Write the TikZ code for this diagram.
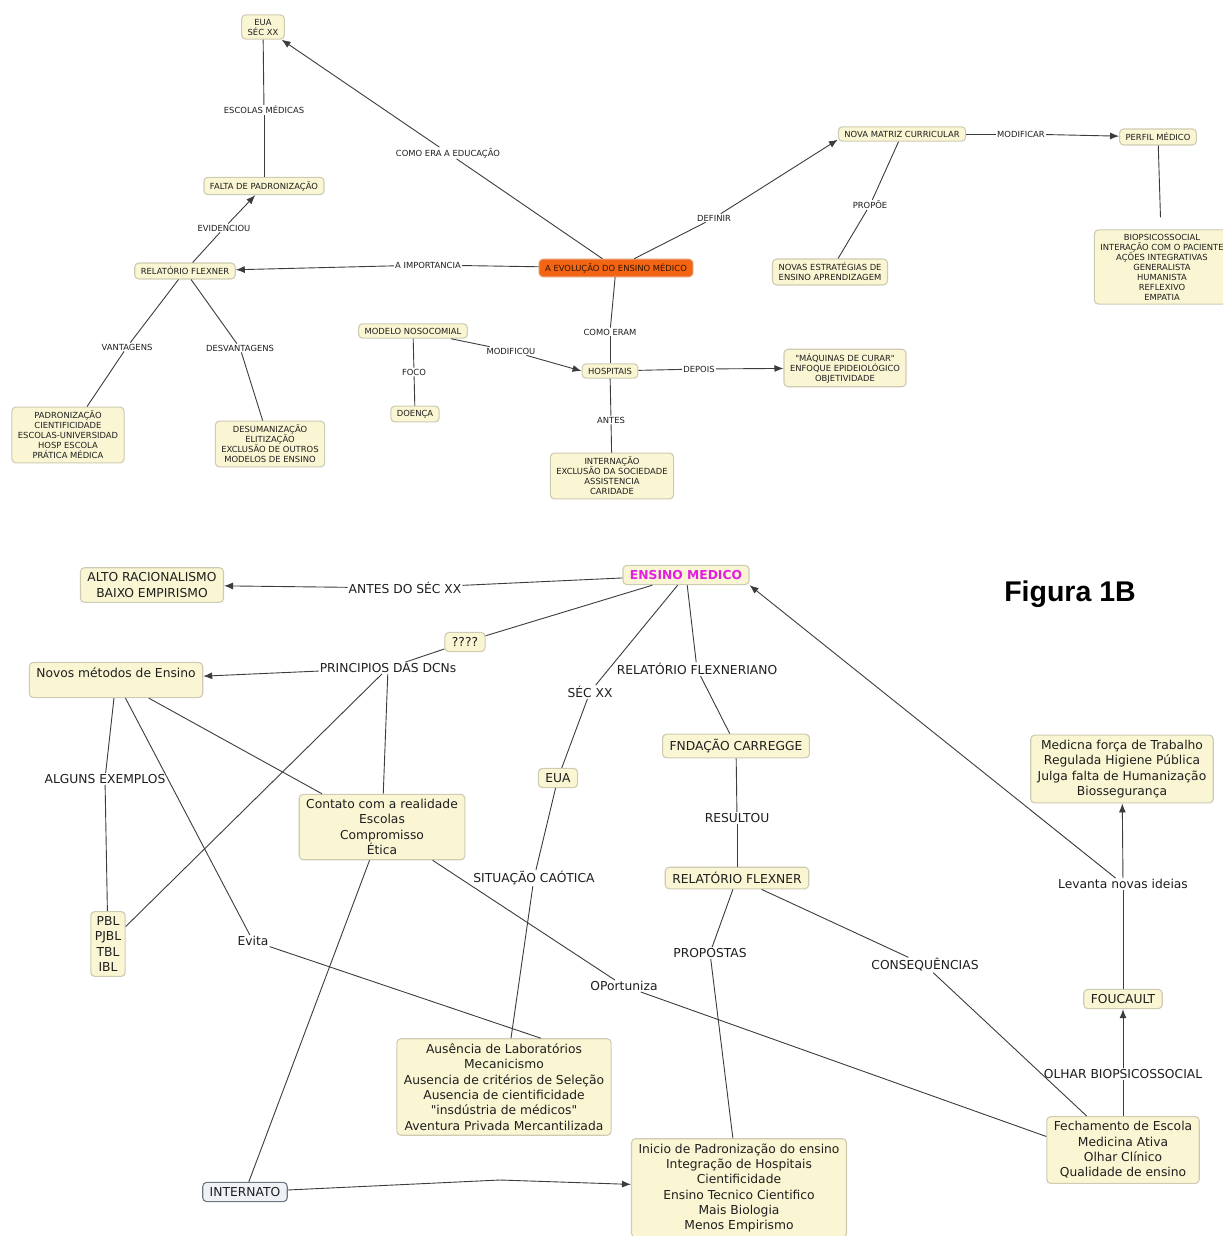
\documentclass[tikz,border=0pt]{standalone}
\usepackage{fontspec}
\usepackage{tikz}
\usepackage{xcolor}
\usetikzlibrary{arrows.meta}
\setmainfont{DejaVu Sans}[Ligatures=TeXOff]
\newfontfamily\arialfont{Liberation Sans}
\definecolor{cmfill}{RGB}{250,246,211}
\definecolor{cmline}{RGB}{206,203,178}
\definecolor{cmedge}{RGB}{60,60,60}
\definecolor{cmtext}{RGB}{30,30,30}
\definecolor{cmorange}{RGB}{243,101,18}
\definecolor{cmorangeline}{RGB}{232,145,95}
\definecolor{cmmagenta}{RGB}{225,30,225}
\definecolor{cmblue}{RGB}{238,242,247}
\definecolor{cmblueline}{RGB}{110,118,128}
\newcommand\topfont{\fontsize{8.4}{10}\selectfont}
\newcommand\botfont{\fontsize{12.3}{15.3}\selectfont}
\tikzset{
  topbox/.style={draw=cmline, fill=cmfill, line width=1.1pt, rounded corners=4pt,
    font=\topfont, text=cmtext, align=center, inner xsep=6pt, inner ysep=4pt},
  botbox/.style={topbox, font=\botfont, inner xsep=7pt, inner ysep=5pt},
  toplink/.style={font=\topfont, text=cmtext, inner sep=1pt},
  botlink/.style={font=\botfont, text=cmtext, inner sep=1pt},
  conn/.style={draw=cmedge, line width=0.9pt},
  >={Latex[length=9pt,width=7pt]}
}

\begin{document}
\begin{tikzpicture}[x=1pt,y=-1pt]
  \useasboundingbox (0,0) rectangle (1223,1236);
  \clip (0,0) rectangle (1223,1236);
  \fill[white] (0,0) rectangle (1223,1236);

  % upper map
  \node[topbox] (euaA) at (263,27) {EUA\\SÉC XX};
  \node[topbox] (falta) at (264,186) {FALTA DE PADRONIZAÇÃO};
  \node[topbox] (flexA) at (185,271) {RELATÓRIO FLEXNER};
  \node[topbox, fill=cmorange, draw=cmorangeline, text={rgb,255:red,50;green,20;blue,0}] (evol) at (616,268) {A EVOLUÇÃO DO ENSINO MÉDICO};
  \node[topbox] (matriz) at (902,134) {NOVA MATRIZ CURRICULAR};
  \node[topbox] (perfil) at (1158,137) {PERFIL MÉDICO};
  \node[topbox] (estrat) at (830,272) {NOVAS ESTRATÉGIAS DE\\ENSINO APRENDIZAGEM};
  \node[topbox] (perfilList) at (1162,267) {BIOPSICOSSOCIAL\\INTERAÇÃO COM O PACIENTE\\AÇÕES INTEGRATIVAS\\GENERALISTA\\HUMANISTA\\REFLEXIVO\\EMPATIA};
  \node[topbox] (vant) at (68,435) {PADRONIZAÇÃO\\CIENTIFICIDADE\\ESCOLAS-UNIVERSIDAD\\HOSP ESCOLA\\PRÁTICA MÉDICA};
  \node[topbox] (desv) at (270,444) {DESUMANIZAÇÃO\\ELITIZAÇÃO\\EXCLUSÃO DE OUTROS\\MODELOS DE ENSINO};
  \node[topbox] (nosoc) at (413,331) {MODELO NOSOCOMIAL};
  \node[topbox] (doenca) at (415,414) {DOENÇA};
  \node[topbox] (hosp) at (610,371) {HOSPITAIS};
  \node[topbox] (maq) at (845,368) {"MÁQUINAS DE CURAR"\\ENFOQUE EPIDEIOLÓGICO\\OBJETIVIDADE};
  \node[topbox] (intern) at (612,476) {INTERNAÇÃO\\EXCLUSÃO DA SOCIEDADE\\ASSISTENCIA\\CARIDADE};

  \node[toplink] (lEscolas) at (264,110) {ESCOLAS MÉDICAS};
  \node[toplink] (lComoEra) at (448,153) {COMO ERA A EDUCAÇÃO};
  \node[toplink] (lEvid) at (224,228) {EVIDENCIOU};
  \node[toplink] (lImport) at (428,265) {A IMPORTANCIA};
  \node[toplink] (lDefinir) at (714,218) {DEFINIR};
  \node[toplink] (lModificar) at (1021,134) {MODIFICAR};
  \node[toplink] (lPropoe) at (870,205) {PROPÕE};
  \node[toplink] (lVant) at (127,347) {VANTAGENS};
  \node[toplink] (lDesv) at (240,348) {DESVANTAGENS};
  \node[toplink] (lComoEram) at (610,332) {COMO ERAM};
  \node[toplink] (lFoco) at (414,372) {FOCO};
  \node[toplink] (lModificou) at (511,351) {MODIFICOU};
  \node[toplink] (lDepois) at (699,369) {DEPOIS};
  \node[toplink] (lAntes) at (611,420) {ANTES};

  \foreach \a/\b in {falta/lEscolas, lEscolas/euaA, evol/lComoEra, evol/lImport, flexA/lEvid,
      evol/lDefinir, matriz/lModificar, matriz/lPropoe, lPropoe/estrat, flexA/lVant, lVant/vant,
      flexA/lDesv, lDesv/desv, evol/lComoEram, lComoEram/hosp, nosoc/lFoco, lFoco/doenca,
      nosoc/lModificou, hosp/lDepois, hosp/lAntes, lAntes/intern}
    \draw[conn] (\a) -- (\b);
  \foreach \a/\b in {lComoEra/euaA, lImport/flexA, lEvid/falta, lDefinir/matriz.185,
      lModificar/perfil, lModificou/hosp.west, lDepois/maq}
    \draw[conn, ->] (\a) -- (\b);
  \draw[conn, shorten >=12pt] (perfil) -- (perfilList);

  % lower map
  \node[font=\arialfont\bfseries\fontsize{28.5}{30}\selectfont] (fig) at (1070,594) {Figura 1B};
  \node[botbox, font=\botfont\bfseries, text=cmmagenta] (ensino) at (686,575) {ENSINO MEDICO};
  \node[botbox] (alto) at (152,585) {ALTO RACIONALISMO\\BAIXO EMPIRISMO};
  \node[botbox] (quest) at (465,642) {????};
  \node[botbox] (novos) at (116,680) {Novos métodos de Ensino\\\mbox{}};
  \node[botbox] (fcarr) at (736,746) {FNDAÇÃO CARREGGE};
  \node[botbox] (euaB) at (558,778) {EUA};
  \node[botbox] (contato) at (382,827) {Contato com a realidade\\Escolas\\Compromisso\\Ética};
  \node[botbox] (medicna) at (1122,769) {Medicna força de Trabalho\\Regulada Higiene Pública\\Julga falta de Humanização\\Biossegurança};
  \node[botbox] (flexB) at (737,878) {RELATÓRIO FLEXNER};
  \node[botbox, inner xsep=4pt] (pbl) at (108,944) {PBL\\PJBL\\TBL\\IBL};
  \node[botbox] (foucault) at (1123,999) {FOUCAULT};
  \node[botbox] (ausencia) at (504,1087) {Ausência de Laboratórios\\Mecanicismo\\Ausencia de critérios de Seleção\\Ausencia de cientificidade\\"insdústria de médicos"\\Aventura Privada Mercantilizada};
  \node[botbox] (fech) at (1123,1150) {Fechamento de Escola\\Medicina Ativa\\Olhar Clínico\\Qualidade de ensino};
  \node[botbox, fill=cmblue, draw=cmblueline] (internato) at (245,1192) {INTERNATO};
  \node[botbox] (inicio) at (739,1188) {Inicio de Padronização do ensino\\Integração de Hospitais\\Cientificidade\\Ensino Tecnico Cientifico\\Mais Biologia\\Menos Empirismo};

  \node[botlink] (lAntesSec) at (405,588) {ANTES DO SÉC XX};
  \node[botlink] (lPrinc) at (388,668) {PRINCIPIOS DAS DCNs};
  \node[botlink] (lSec) at (590,692) {SÉC XX};
  \node[botlink] (lFlexn) at (697,669) {RELATÓRIO FLEXNERIANO};
  \node[botlink] (lResultou) at (737,818) {RESULTOU};
  \node[botlink] (lCaotica) at (534,878) {SITUAÇÃO CAÓTICA};
  \node[botlink] (lExemplos) at (105,779) {ALGUNS EXEMPLOS};
  \node[botlink] (lEvita) at (253,941) {Evita};
  \node[botlink] (lOport) at (624,986) {OPortuniza};
  \node[botlink] (lPropostas) at (710,953) {PROPOSTAS};
  \node[botlink] (lConseq) at (925,965) {CONSEQUÊNCIAS};
  \node[botlink] (lOlhar) at (1123,1074) {OLHAR BIOPSICOSSOCIAL};
  \node[botlink] (lLevanta) at (1123,884) {Levanta novas ideias};
  \coordinate (kInternato) at (500,1180);

  \foreach \a/\b in {ensino/lAntesSec, ensino/quest, quest/lPrinc, lPrinc/contato, lPrinc/pbl,
      novos/lExemplos, lExemplos/pbl, novos/lEvita, lEvita/ausencia.53, novos/contato,
      contato/lOport, lOport/fech.170, contato/internato, internato/kInternato,
      ensino/lSec, lSec/euaB, euaB/lCaotica, lCaotica/ausencia, ensino/lFlexn, lFlexn/fcarr,
      fcarr/lResultou, lResultou/flexB, flexB/lPropostas, lPropostas/inicio,
      flexB/lConseq, lConseq/fech, fech/lOlhar, foucault/lLevanta}
    \draw[conn] (\a) -- (\b);
  \foreach \a/\b in {lAntesSec/alto, lPrinc/novos, kInternato/inicio, lOlhar/foucault,
      lLevanta/medicna, lLevanta/ensino.south east}
    \draw[conn, ->] (\a) -- (\b);
\end{tikzpicture}
\end{document}
